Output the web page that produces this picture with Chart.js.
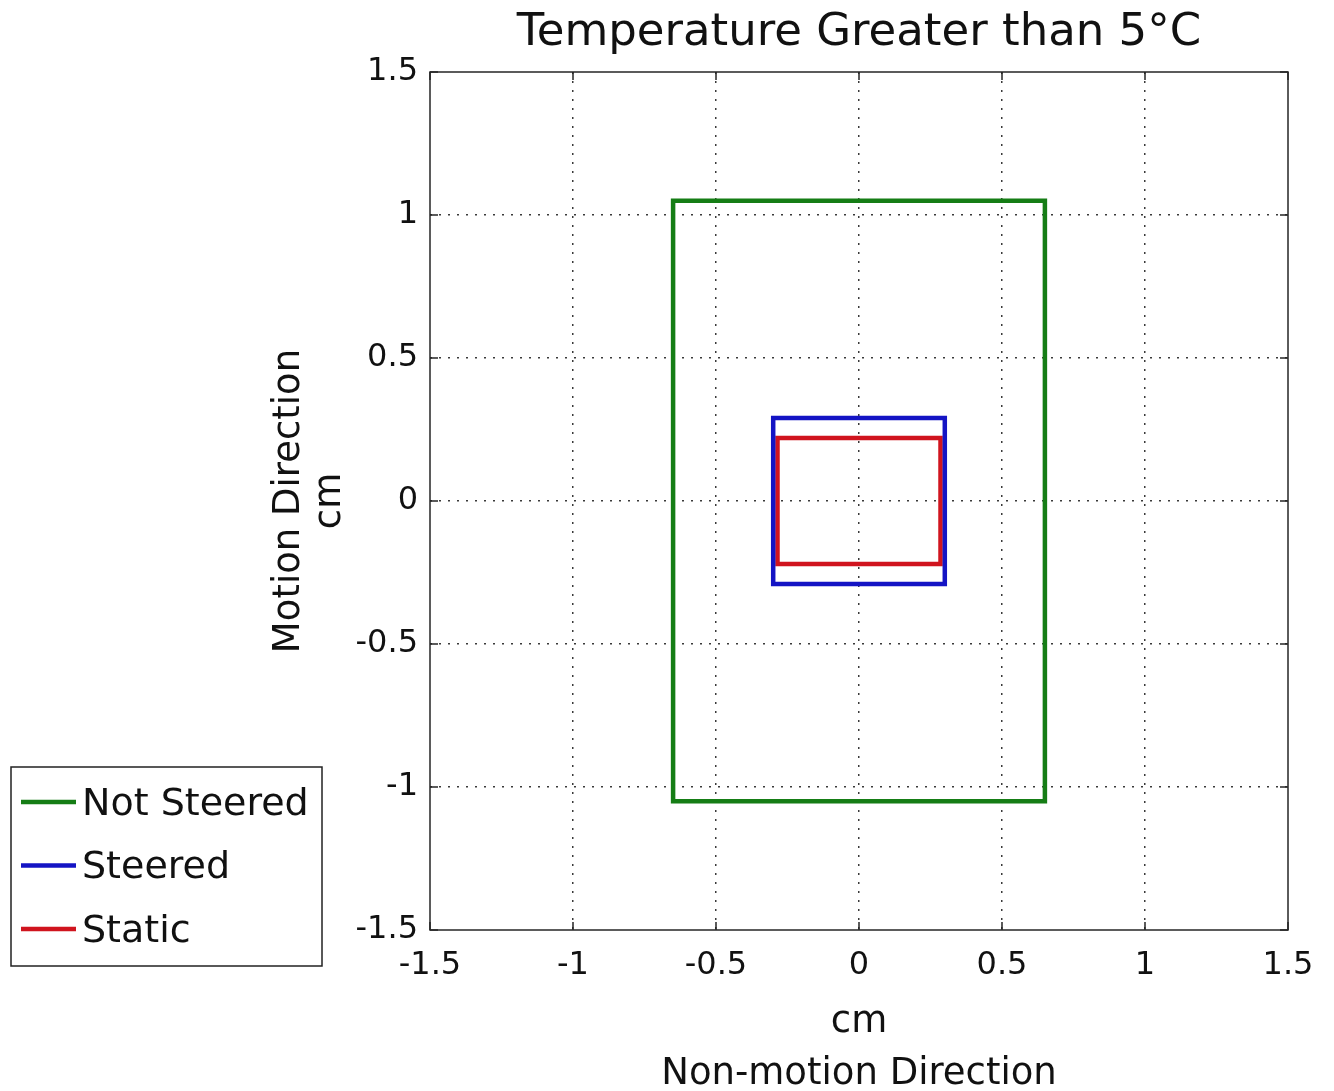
<!DOCTYPE html>
<html>
<head>
<meta charset="utf-8">
<script src="https://cdn.jsdelivr.net/npm/chart.js@4.4.1/dist/chart.umd.min.js"></script>
<style>
  html, body { margin: 0; padding: 0; background: #ffffff; }
  #wrap { width: 1334px; height: 1091px; }
</style>
</head>
<body>
<div id="wrap"><canvas id="c" width="1334" height="1091"></canvas></div>
<script>
// ---- data ----
const chartTitle = 'Temperature Greater than 5°C';
const xTitle = ['cm', 'Non-motion Direction'];
const yTitle = ['Motion Direction', 'cm'];
const xTickValues = [-1.5, -1, -0.5, 0, 0.5, 1, 1.5];
const xTickLabels = ['-1.5', '-1', '-0.5', '0', '0.5', '1', '1.5'];
const yTickValues = [-1.5, -1, -0.5, 0, 0.5, 1, 1.5];
const yTickLabels = ['-1.5', '-1', '-0.5', '0', '0.5', '1', '1.5'];
const seriesLabels = ['Not Steered', 'Steered', 'Static'];
const notSteeredX = [-0.65, 0.65, 0.65, -0.65, -0.65];
const notSteeredY = [1.05, 1.05, -1.05, -1.05, 1.05];
const steeredX = [-0.3, 0.3, 0.3, -0.3, -0.3];
const steeredY = [0.29, 0.29, -0.29, -0.29, 0.29];
const staticX = [-0.285, 0.285, 0.285, -0.285, -0.285];
const staticY = [0.22, 0.22, -0.22, -0.22, 0.22];
const seriesColors = ['#157d15', '#1414c4', '#d0141e'];

function pts(xs, ys) { return xs.map((x, i) => ({ x: x, y: ys[i] })); }

const FONT = "'DejaVu Sans', Verdana, sans-serif";
const seriesData = [pts(notSteeredX, notSteeredY), pts(steeredX, steeredY), pts(staticX, staticY)];

const datasets = seriesLabels.map((lab, i) => ({
  label: lab,
  data: seriesData[i],
  showLine: true,
  borderColor: seriesColors[i],
  backgroundColor: seriesColors[i],
  borderWidth: 4.5,
  pointRadius: 0,
  pointHoverRadius: 0,
  borderJoinStyle: 'miter',
  borderCapStyle: 'square',
  fill: false,
  tension: 0
}));

const framePlugin = {
  id: 'frame',
  afterDraw(chart) {
    const ctx = chart.ctx;
    const a = chart.chartArea;
    const xs = chart.scales.x, ys = chart.scales.y;
    ctx.save();
    ctx.strokeStyle = '#262626';
    ctx.lineWidth = 1.5;
    ctx.strokeRect(a.left, a.top, a.right - a.left, a.bottom - a.top);
    ctx.beginPath();
    const tl = 8;
    xTickValues.forEach(v => {
      const p = xs.getPixelForValue(v);
      ctx.moveTo(p, a.bottom); ctx.lineTo(p, a.bottom - tl);
      ctx.moveTo(p, a.top); ctx.lineTo(p, a.top + tl);
    });
    yTickValues.forEach(v => {
      const p = ys.getPixelForValue(v);
      ctx.moveTo(a.left, p); ctx.lineTo(a.left + tl, p);
      ctx.moveTo(a.right, p); ctx.lineTo(a.right - tl, p);
    });
    ctx.stroke();

    // legend
    const lx = 11, ly = 767, lw = 311, lh = 199;
    ctx.fillStyle = '#ffffff';
    ctx.fillRect(lx, ly, lw, lh);
    ctx.strokeStyle = '#222222';
    ctx.lineWidth = 1.5;
    ctx.strokeRect(lx, ly, lw, lh);
    ctx.font = '38px ' + FONT;
    ctx.textBaseline = 'middle';
    ctx.textAlign = 'left';
    chart.data.datasets.forEach((ds, i) => {
      const y = 802 + i * 63.5;
      ctx.strokeStyle = ds.borderColor;
      ctx.lineWidth = 4.5;
      ctx.beginPath();
      ctx.moveTo(21, y); ctx.lineTo(76, y);
      ctx.stroke();
      ctx.fillStyle = '#111111';
      ctx.fillText(ds.label, 82, y + 3);
    });
    ctx.restore();
  }
};

function gridColor(ctx) {
  const v = ctx.tick ? ctx.tick.value : null;
  if (v === -1.5 || v === 1.5) return 'rgba(0,0,0,0)';
  return '#3a3a3a';
}

new Chart(document.getElementById('c'), {
  type: 'scatter',
  data: { datasets: datasets },
  options: {
    responsive: false,
    animation: false,
    devicePixelRatio: 1,
    layout: { padding: { left: 0, right: 46, top: 0, bottom: 0 } },
    plugins: {
      legend: { display: false },
      tooltip: { enabled: false },
      title: {
        display: true,
        text: chartTitle,
        fullSize: false,
        color: '#111111',
        font: { family: FONT, size: 45, weight: 'normal', lineHeight: 1.2 },
        padding: { top: 6, bottom: 12 }
      }
    },
    scales: {
      x: {
        type: 'linear',
        min: -1.5, max: 1.5,
        afterBuildTicks(scale) { scale.ticks = xTickValues.map(v => ({ value: v })); },
        afterFit(scale) { scale.height = 161; },
        ticks: {
          color: '#111111',
          padding: 16,
          maxRotation: 0,
          font: { family: FONT, size: 32 },
          callback(value) { const i = xTickValues.indexOf(value); return i >= 0 ? xTickLabels[i] : ''; }
        },
        grid: { color: gridColor, lineWidth: 1.5, drawTicks: false },
        border: { display: false, dash: [2, 7] },
        title: {
          display: true,
          text: xTitle,
          color: '#111111',
          font: { family: FONT, size: 37, lineHeight: 1.4 },
          padding: { top: 0, bottom: -9 }
        }
      },
      y: {
        type: 'linear',
        min: -1.5, max: 1.5,
        afterBuildTicks(scale) { scale.ticks = yTickValues.map(v => ({ value: v })); },
        afterFit(scale) { scale.width = 430; },
        ticks: {
          color: '#111111',
          padding: 12,
          font: { family: FONT, size: 32 },
          callback(value) { const i = yTickValues.indexOf(value); return i >= 0 ? yTickLabels[i] : ''; }
        },
        grid: { color: gridColor, lineWidth: 1.5, drawTicks: false },
        border: { display: false, dash: [2, 7] },
        title: {
          display: true,
          text: yTitle,
          color: '#111111',
          font: { family: FONT, size: 37, lineHeight: 1.1 },
          padding: { top: 269, bottom: 0 }
        }
      }
    }
  },
  plugins: [framePlugin]
});
</script>
</body>
</html>
